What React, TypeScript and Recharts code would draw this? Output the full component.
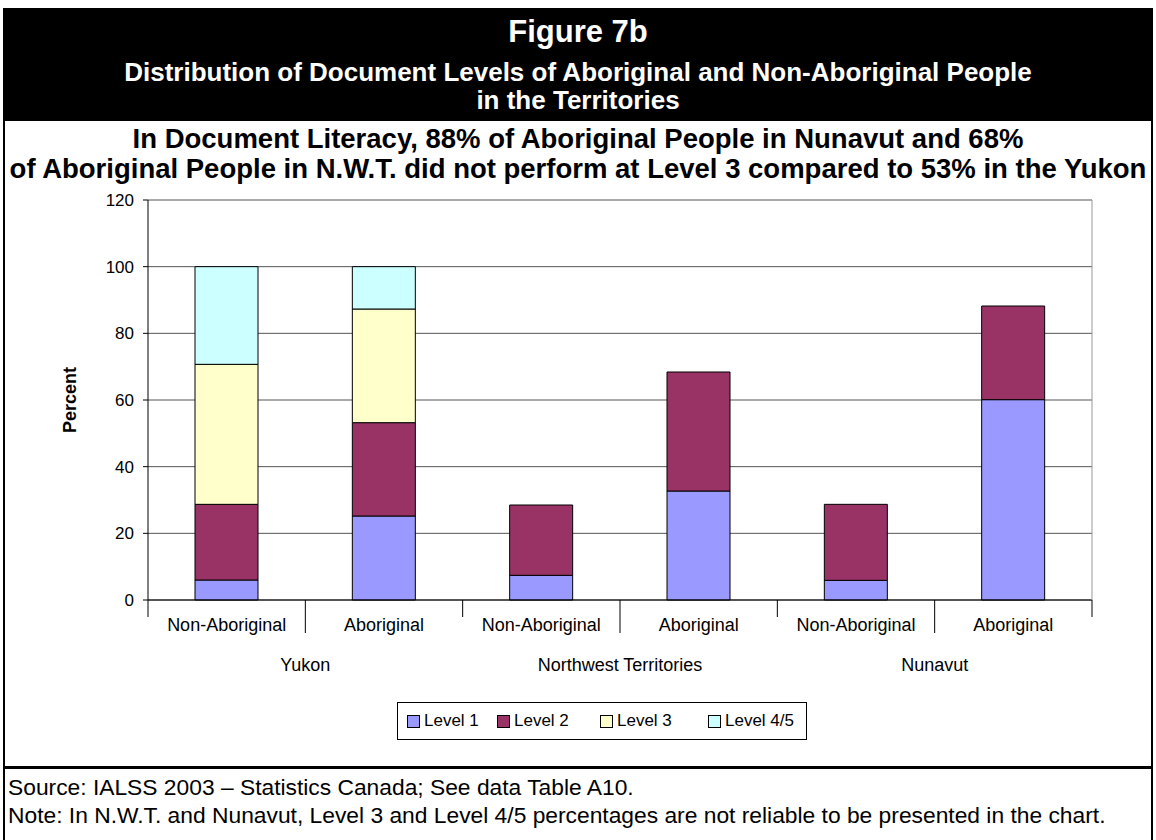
import { Bar, BarChart, CartesianGrid, XAxis, YAxis } from "recharts";

const categories = ["Non-Aboriginal", "Aboriginal", "Non-Aboriginal", "Aboriginal", "Non-Aboriginal", "Aboriginal"];
const territories = ["Yukon", "Yukon", "Northwest Territories", "Northwest Territories", "Nunavut", "Nunavut"];
const level1 = [6, 25.2, 7.4, 32.7, 5.9, 60.1];
const level2 = [22.7, 28, 21.1, 35.7, 22.8, 28.1];
const level3 = [42, 34.1, null, null, null, null];
const level45 = [29.3, 12.7, null, null, null, null];
const yTicks = [0, 20, 40, 60, 80, 100, 120];

const series = [
    { key: "l1", name: "Level 1", color: "#9999FF" },
    { key: "l2", name: "Level 2", color: "#993366" },
    { key: "l3", name: "Level 3", color: "#FFFFCC" },
    { key: "l45", name: "Level 4/5", color: "#CCFFFF" },
];

const data = categories.map((cat, i) => ({
    cat,
    territory: territories[i],
    l1: level1[i],
    l2: level2[i],
    l3: level3[i],
    l45: level45[i],
}));

const FONT = "'Liberation Sans', Arial, sans-serif";
const PLOT_LEFT = 148;
const PLOT_RIGHT = 1092;
const BAND = (PLOT_RIGHT - PLOT_LEFT) / categories.length;
const LEGEND_ITEM_WIDTHS = [90, 103, 108, 92];

// two-row category axis like Excel's multi-level labels
const CategoryTick: React.FC<any> = ({ x, y, payload, index }) => {
    const long = index % 2 === 1;
    const left = x - BAND / 2;
    return (
        <g>
            <line x1={left} x2={left} y1={y} y2={y + (long ? 33 : 17)} stroke="#000" />
            {index === categories.length - 1 && (
                <line x1={x + BAND / 2} x2={x + BAND / 2} y1={y} y2={y + 17} stroke="#000" />
            )}
            <text x={x} y={y + 31} textAnchor="middle" fontSize={18} fontFamily={FONT} fill="#000">
                {payload.value}
            </text>
            {long && (
                <text x={left} y={y + 71} textAnchor="middle" fontSize={18} fontFamily={FONT} fill="#000">
                    {territories[index]}
                </text>
            )}
        </g>
    );
};

const App: React.FC = () => {
    return (
        <div style={{ position: "absolute", left: 0, top: 0, width: 1156, height: 840, background: "#fff", fontFamily: FONT, overflow: "hidden" }}>
            <div style={{ position: "absolute", left: 3, top: 8, width: 1150, height: 840, border: "2px solid #000", borderTop: "none", boxSizing: "border-box" }} />
            <div style={{ position: "absolute", left: 3, top: 766, width: 1150, height: 3, background: "#000" }} />
            <div style={{ position: "absolute", left: 3, top: 8, width: 1150, height: 113, background: "#000", color: "#fff", textAlign: "center", fontWeight: "bold" }}>
                <div style={{ position: "absolute", left: 0, right: 0, top: 5, fontSize: 31, lineHeight: "38px" }}>Figure 7b</div>
                <div style={{ position: "absolute", left: 0, right: 0, top: 49, fontSize: 26, lineHeight: "30px" }}>
                    Distribution of Document Levels of Aboriginal and Non-Aboriginal People
                </div>
                <div style={{ position: "absolute", left: 0, right: 0, top: 77, fontSize: 26, lineHeight: "30px" }}>in the Territories</div>
            </div>
            <div style={{ position: "absolute", left: 3, width: 1150, top: 124, textAlign: "center", fontWeight: "bold", fontSize: 27.5, lineHeight: "30px", whiteSpace: "nowrap" }}>
                In Document Literacy, 88% of Aboriginal People in Nunavut and 68%
                <br />
                of Aboriginal People in N.W.T. did not perform at Level 3 compared to 53% in the Yukon
            </div>
            <div style={{ position: "absolute", left: 0, top: 0 }}>
                <BarChart width={1156} height={767} data={data} margin={{ top: 200, right: 63, left: 48, bottom: 87 }} barSize={63}>
                    <CartesianGrid vertical={false} stroke="#555" strokeWidth={1} />
                    <XAxis
                        dataKey="cat"
                        interval={0}
                        height={80}
                        tickLine={false}
                        tickSize={0}
                        tickMargin={0}
                        axisLine={{ stroke: "#000" }}
                        tick={<CategoryTick />}
                    />
                    <YAxis
                        domain={[0, 120]}
                        ticks={yTicks}
                        width={100}
                        tickSize={5}
                        tickMargin={9}
                        axisLine={{ stroke: "#000" }}
                        tickLine={{ stroke: "#000" }}
                        tick={{ fontSize: 17, fill: "#000", fontFamily: FONT }}
                        label={{ value: "Percent", angle: -90, position: "insideLeft", offset: 22, style: { fontSize: 18, fontWeight: "bold", fill: "#000", fontFamily: FONT, textAnchor: "middle" } }}
                    />
                    <YAxis yAxisId="right" orientation="right" width={1} tick={false} tickLine={false} axisLine={{ stroke: "#999" }} />
                    {series.map((s) => (
                        <Bar key={s.key} dataKey={s.key} name={s.name} stackId="a" fill={s.color} stroke="#000" strokeWidth={1} isAnimationActive={false} />
                    ))}
                </BarChart>
            </div>
            <div style={{ position: "absolute", left: 397, top: 702, width: 410, height: 38, border: "1px solid #000", boxSizing: "border-box", display: "flex", alignItems: "center", paddingLeft: 9, fontSize: 17, whiteSpace: "nowrap" }}>
                {series.map((s, i) => (
                    <div key={s.key} style={{ display: "flex", alignItems: "center", flexShrink: 0, width: LEGEND_ITEM_WIDTHS[i] }}>
                        <span style={{ display: "inline-block", width: 11, height: 11, background: s.color, border: "1px solid #000", marginRight: 4, flexShrink: 0 }} />
                        <span>{s.name}</span>
                    </div>
                ))}
            </div>
            <div style={{ position: "absolute", left: 8, top: 773, fontSize: 22.8, lineHeight: "28px", whiteSpace: "nowrap" }}>
                Source: IALSS 2003 – Statistics Canada; See data Table A10.
            </div>
            <div style={{ position: "absolute", left: 8, top: 801, fontSize: 22.8, lineHeight: "28px", whiteSpace: "nowrap" }}>
                Note: In N.W.T. and Nunavut, Level 3 and Level 4/5 percentages are not reliable to be presented in the chart.
            </div>
        </div>
    );
};

export default App;
